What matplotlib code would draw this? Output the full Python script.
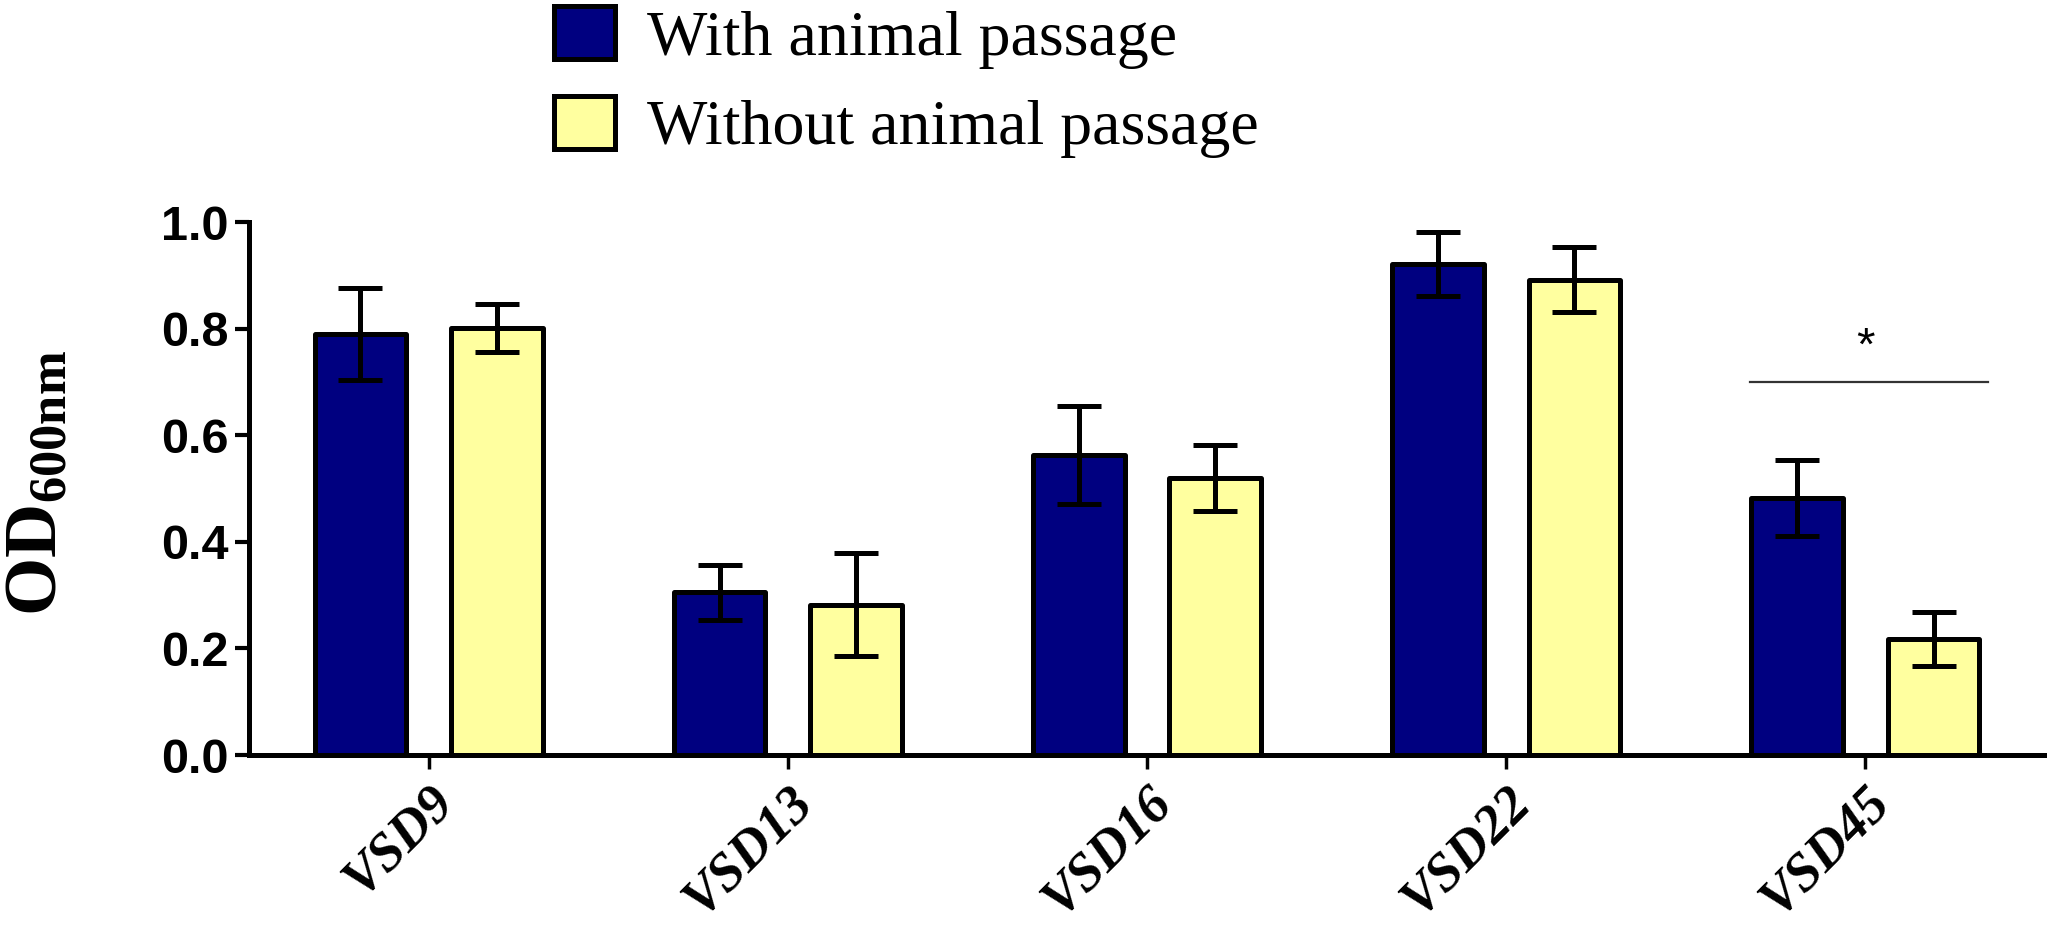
import matplotlib
matplotlib.use("Agg")
import matplotlib.pyplot as plt
import matplotlib.transforms as mtransforms
import numpy as np

categories = ["VSD9", "VSD13", "VSD16", "VSD22", "VSD45"]
with_passage = [0.79, 0.305, 0.562, 0.921, 0.482]
with_err = [0.087, 0.052, 0.092, 0.060, 0.071]
without_passage = [0.801, 0.282, 0.520, 0.892, 0.218]
without_err = [0.045, 0.097, 0.062, 0.061, 0.051]
series_names = ["With animal passage", "Without animal passage"]
yticks = [0.0, 0.2, 0.4, 0.6, 0.8, 1.0]
sig_group = 4
sig_y = 0.70
sig_label = "*"

plt.rcParams['mathtext.fontset'] = 'custom'
plt.rcParams['mathtext.rm'] = 'Liberation Serif:bold'
plt.rcParams['mathtext.bf'] = 'Liberation Serif:bold'
plt.rcParams['mathtext.it'] = 'Liberation Serif:bold'

fig = plt.figure(figsize=(20.47, 9.30), dpi=100)
ax = fig.add_axes([249/2047, (930-755)/930, (2045-249)/2047, (755-222)/930])

x = np.arange(len(categories))
w = 0.255
off = 0.19
lw = 3.6
blue = "#000080"
yellow = "#FFFF9F"

b1 = ax.bar(x - off, with_passage, w, color=blue, edgecolor="black", linewidth=lw,
            label=series_names[0], zorder=2)
b2 = ax.bar(x + off, without_passage, w, color=yellow, edgecolor="black", linewidth=lw,
            label=series_names[1], zorder=2)
for b in list(b1) + list(b2):
    b.set_joinstyle('round')
ax.errorbar(x - off, with_passage, yerr=with_err, fmt='none', ecolor='black',
            elinewidth=3.6, capsize=16, capthick=3.6, zorder=3, clip_on=False)
ax.errorbar(x + off, without_passage, yerr=without_err, fmt='none', ecolor='black',
            elinewidth=3.6, capsize=16, capthick=3.6, zorder=3, clip_on=False)

# significance
ax.plot([sig_group - 0.32, sig_group + 0.34], [sig_y, sig_y], color="#333333", lw=1.6, zorder=3)
ax.text(sig_group, sig_y + 0.065, sig_label, ha='center', va='center', fontsize=34,
        family='Liberation Sans')

ax.set_xlim(-0.5, 4.5)
ax.set_ylim(0, 1.0)
ax.set_yticks(yticks)
ax.set_yticklabels([f"{v:.1f}" for v in yticks], fontsize=35, fontweight='bold',
                   family='Liberation Sans')
ax.set_xticks(x)
ax.set_xticklabels(categories, rotation=45, ha='right', va='top', rotation_mode='anchor',
                   fontsize=39, fontweight='bold', style='italic', family='Liberation Serif')
shift = mtransforms.ScaledTranslation(-12/100, 0, fig.dpi_scale_trans)
for lab in ax.get_xticklabels():
    lab.set_transform(lab.get_transform() + shift)

for s in ['top', 'right']:
    ax.spines[s].set_visible(False)
for s in ['left', 'bottom']:
    ax.spines[s].set_linewidth(3.6)
ax.tick_params(axis='y', length=10, width=3, pad=5)
ax.tick_params(axis='x', length=10, width=2.5, pad=6)

ax.set_ylabel(r'$\mathbf{OD_{600nm}}$', fontsize=54)
ax.yaxis.set_label_coords((72-249)/1796, 0.51)

fig.legend(handles=[b1, b2], labels=series_names, loc='upper left',
           bbox_to_anchor=(548/2047, 1.0), frameon=False,
           prop={'family': 'Liberation Serif', 'size': 46},
           handlelength=0.95, handleheight=0.9, handletextpad=0.5,
           labelspacing=0.42, borderpad=0.1, borderaxespad=0.0)

fig.savefig("out.png", dpi=100)
